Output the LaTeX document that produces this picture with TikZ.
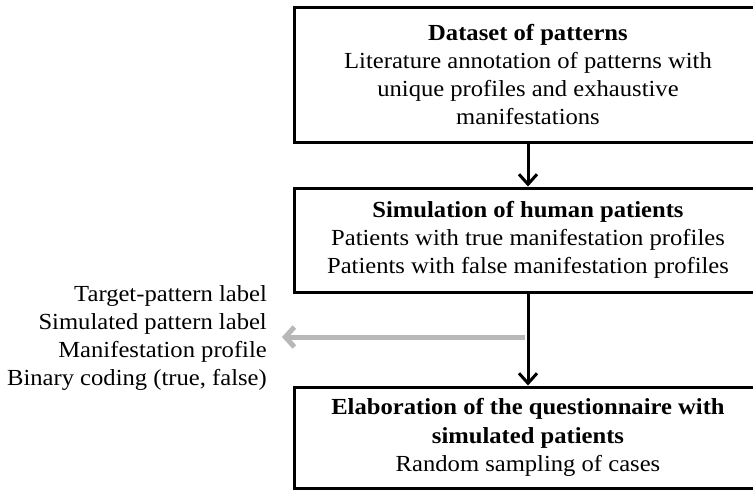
\documentclass[tikz,border=0pt]{standalone}
\usepackage{fontspec}
\setmainfont{Liberation Serif}[FakeStretch=1.07]
\usetikzlibrary{arrows.meta}
\begin{document}
\begin{tikzpicture}[x=1pt,y=-1pt,
  flowbox/.style={draw=black, line width=3pt, minimum width=468pt, inner sep=0pt,
    align=center, font=\fontsize{23}{28.3}\selectfont},
  flowarrow/.style={draw=black, line width=3pt, -{Straight Barb[length=10pt,width=18pt,line width=3pt]}},
  sidearrow/.style={draw=black!28, line width=5pt, -{Straight Barb[length=9pt,width=20pt,line width=5pt]}},
  sidelabel/.style={align=right, inner sep=0pt, font=\fontsize{23}{28.3}\selectfont}]
\useasboundingbox (0,0) rectangle (753,491);
\clip (0,0) rectangle (753,491);
\node[flowbox, minimum height=135pt] (b1) at (528,74.5)
  {\textbf{Dataset of patterns}\\Literature annotation of patterns with\\unique profiles and exhaustive\\manifestations};
\node[flowbox, minimum height=104pt] (b2) at (528,240)
  {\textbf{Simulation of human patients}\\Patients with true manifestation profiles\\Patients with false manifestation profiles};
\node[flowbox, minimum height=101pt] (b3) at (528,437.5)
  {\textbf{Elaboration of the questionnaire with}\\\textbf{simulated patients}\\Random sampling of cases};
\node[sidelabel, anchor=east] (lab) at (267,338)
  {Target-pattern label\\Simulated pattern label\\Manifestation profile\\Binary coding (true, false)};
\coordinate (mid) at (525,337);
\draw[sidearrow, shorten >=15pt] (mid) -- (lab.east |- mid);
\draw[flowarrow] (b1.south) -- (b2.north);
\draw[flowarrow] (b2.south) -- (b3.north);
\end{tikzpicture}
\end{document}
